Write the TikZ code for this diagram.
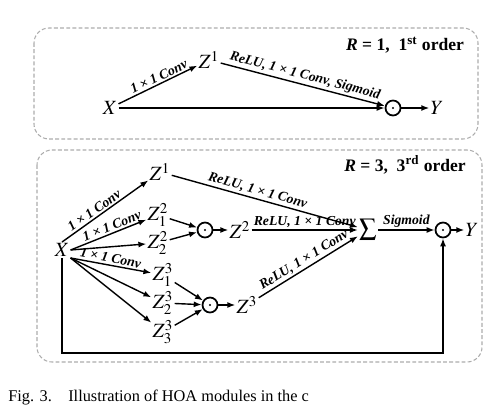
\documentclass[tikz,border=0pt]{standalone}
\usepackage{mathptmx}
\usepackage{fontspec}
\setmainfont{Liberation Serif}
\usetikzlibrary{arrows.meta, positioning, shadows}
\newcommand{\lblfont}{\fontsize{7.8}{9}\selectfont\bfseries\itshape}
\tikzset{%
	var/.style={inner sep=0.6pt, font=\fontsize{11.5}{13}\selectfont},
	dotmark/.style={circle, fill=black, inner sep=0pt, minimum size=1.4pt},
	prod/.style={draw, circle, line width=1pt, minimum size=3mm, inner sep=0mm, fill=white,%
		drop shadow={shadow xshift=-0.3pt, shadow yshift=-0.4pt, fill=cyan!35, opacity=0.8},%
		label={[dotmark]center:}},
	sel/.style={-{Latex[length=4.5pt,width=3.4pt]}, line width=0.8pt},
	lbl/.style={font=\lblfont, inner sep=1pt},
	panel/.style={draw=gray!65, dash pattern=on 2.2pt off 1.3pt, line width=0.6pt, rounded corners=3mm},
	title/.style={font=\fontsize{10}{12}\selectfont\bfseries}
}
\begin{document}
\begin{tikzpicture}[x=0.2mm, y=-0.2mm]
	\useasboundingbox (0,0) rectangle (502,418);
	% first order
	\draw [panel] (34,28) rectangle (478,139);
	\node[var] (x1) at (110,108) {$X$};
	\node[var] (z1) at (209,60) {$Z^1$};
	\node[prod] (p1) at (393,108) {};
	\node[var] (y1) at (437,108) {$Y$};
	\node[title] (r1) at (405,45) {\textit{R} = 1,\ \ 1\textsuperscript{st} order};
	\draw [sel] (x1) to node[lbl, above, sloped, pos=0.55] {1 × 1 Conv} (z1);
	\draw [sel] (z1) to node[lbl, above, sloped] {ReLU, 1 × 1 Conv, Sigmoid} (p1);
	\draw [sel] (x1) to (p1);
	\draw [sel] (p1) to (y1);

	% third order
	\draw [panel] (37,150) rectangle (482,362);
	\node[var] (x2) at (62,250) {$X$};
	\node[var] (z1b) at (160,172) {$Z^1$};
	\node[var] (z21) at (158,215) {$Z^2_1$};
	\node[var] (z22) at (158,243) {$Z^2_2$};
	\node[prod] (pa) at (205,230) {};
	\node[var] (z2) at (240,230) {$Z^2$};
	\node[var] (z31) at (163,275) {$Z^3_1$};
	\node[var] (z32) at (163,303) {$Z^3_2$};
	\node[var] (z33) at (163,332) {$Z^3_3$};
	\node[prod] (pb) at (210,305) {};
	\node[var] (z3) at (247,305) {$Z^3$};
	\node[var, font=\fontsize{14}{16}\selectfont] (sum) at (368,230) {$\sum$};
	\node[prod] (pc) at (443,230) {};
	\node[var] (y2) at (472,230) {$Y$};
	\node[title] (r3) at (405,165) {\textit{R} = 3,\ \ 3\textsuperscript{rd} order};
	\coordinate (fb) at (62,353);
	\draw [sel] (x2.north) to node[lbl, above, sloped, pos=0.42] {1 × 1 Conv} (z1b);
	\draw [sel] (x2.east) to node[lbl, above, sloped, pos=0.58] {1 × 1 Conv} (z21);
	\draw [sel] (x2.east) to (z22);
	\draw [sel] (x2.south east) to node[lbl, above, sloped, pos=0.48] {1 × 1 Conv} (z31);
	\draw [sel] (x2.south east) to (z32);
	\draw [sel] (x2.south east) to (z33);
	\draw [sel] (z21) to (pa);
	\draw [sel] (z22) to (pa);
	\draw [sel] (pa) to (z2);
	\draw [sel] (z31) to (pb);
	\draw [sel] (z32) to (pb);
	\draw [sel] (z33) to (pb);
	\draw [sel] (pb) to (z3);
	\draw [sel] (z1b) to node[lbl, above, sloped, pos=0.45] {ReLU, 1 × 1 Conv} (sum);
	\draw [sel] (z2) to node[lbl, above] {ReLU, 1 × 1 Conv} (sum);
	\draw [sel] (z3) to node[lbl, above, sloped] {ReLU, 1 × 1 Conv} (sum);
	\draw [sel] (sum) to node[lbl, above] {Sigmoid} (pc);
	\draw [sel] (pc) to (y2);
	\draw [sel] (x2) -- (fb) -| (pc);

	\node[anchor=west, inner sep=0pt, font=\fontsize{9.3}{11}\selectfont] (cap) at (8,398)
		{Fig. 3.\quad Illustration of HOA modules in the c};
\end{tikzpicture}
\end{document}
